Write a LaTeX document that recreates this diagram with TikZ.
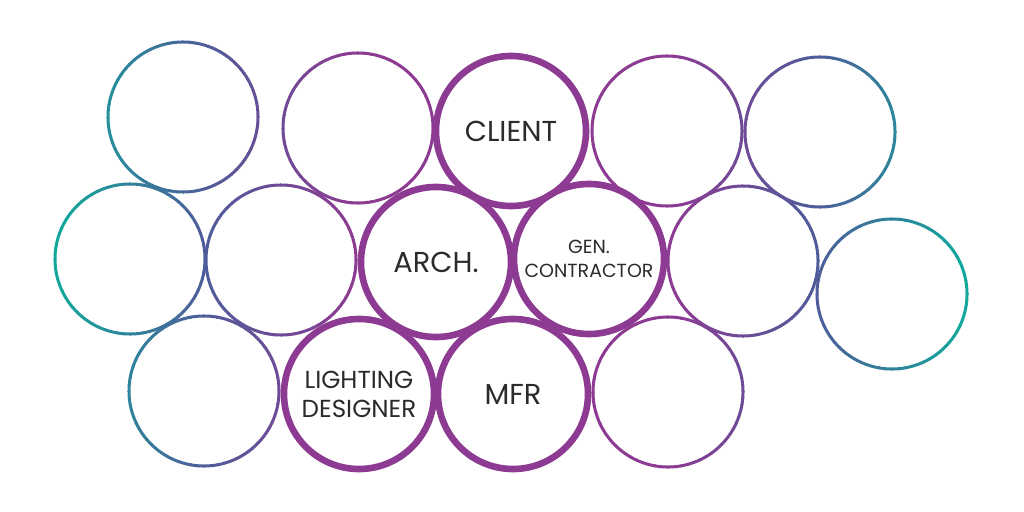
\documentclass[tikz,border=0pt]{standalone}
\usepackage{fontspec}
\setmainfont{Poppins}
\definecolor{cteal}{HTML}{12A79B}
\definecolor{cblue}{HTML}{4F5C9A}
\definecolor{cpurple}{HTML}{8D3A92}
\definecolor{ctext}{HTML}{2B2B2B}

% thin ring whose stroke fades from purple (middle) to teal (outer edges)
\newcommand{\fadering}[2]{%
  \foreach \a in {0,5,...,355}{
    \pgfmathsetmacro{\t}{min(1,max(0,(abs(#1+75*cos(\a+2.5)-511)-160)/290))}
    \pgfmathsetmacro{\pa}{min(1,2*\t)*100}
    \pgfmathsetmacro{\pb}{max(0,2*\t-1)*100}
    \colorlet{mixa}{cblue!\pa!cpurple}
    \colorlet{segc}{cteal!\pb!mixa}
    \draw[thin_ring, segc] (#1,#2) ++(\a:1.875cm)
      arc[start angle=\a, end angle=\a+5.6, radius=1.875cm];
  }}

\begin{document}
\begin{tikzpicture}[x=0.025cm, y=0.025cm,
    thin_ring/.style={line width=0.075cm},
    thick_ring/.style={circle, draw=cpurple, line width=0.165cm,
                       minimum size=3.75cm, inner sep=0pt},
    blank/.style={circle, minimum size=3.75cm, inner sep=0pt},
    big_label/.style={font=\fontsize{20.5}{22}\selectfont, text=ctext, align=center},
    small_label/.style={font=\fontsize{13.5}{17.5}\selectfont, text=ctext, align=center}]
\useasboundingbox (0,0) rectangle (1024,-512);

% outer circles
\node[blank] (c1) at (183,-117) {};
\node[blank] (c2) at (358,-128) {};
\node[blank] (c4) at (667,-131) {};
\node[blank] (c5) at (820,-132) {};
\node[blank] (c6) at (130,-259) {};
\node[blank] (c7) at (281,-260) {};
\node[blank] (c10) at (743,-261) {};
\node[blank] (c11) at (892,-294) {};
\node[blank] (c12) at (204,-391) {};
\node[blank] (c15) at (668,-392) {};
\fadering{183}{-117}
\fadering{358}{-128}
\fadering{667}{-131}
\fadering{820}{-132}
\fadering{130}{-259}
\fadering{281}{-260}
\fadering{743}{-261}
\fadering{892}{-294}
\fadering{204}{-391}
\fadering{668}{-392}

% the named roles
\node[thick_ring, big_label] (client) at (511,-131) {CLIENT};
\node[thick_ring, big_label] (arch) at (436,-262) {ARCH.};
\node[thick_ring, small_label] (gc) at (589,-259) {GEN.\\CONTRACTOR};
\node[thick_ring, small_label, font=\fontsize{17.5}{20.5}\selectfont] (ld) at (359,-394) {LIGHTING\\DESIGNER};
\node[thick_ring, big_label] (mfr) at (513,-394) {MFR};
\end{tikzpicture}
\end{document}
